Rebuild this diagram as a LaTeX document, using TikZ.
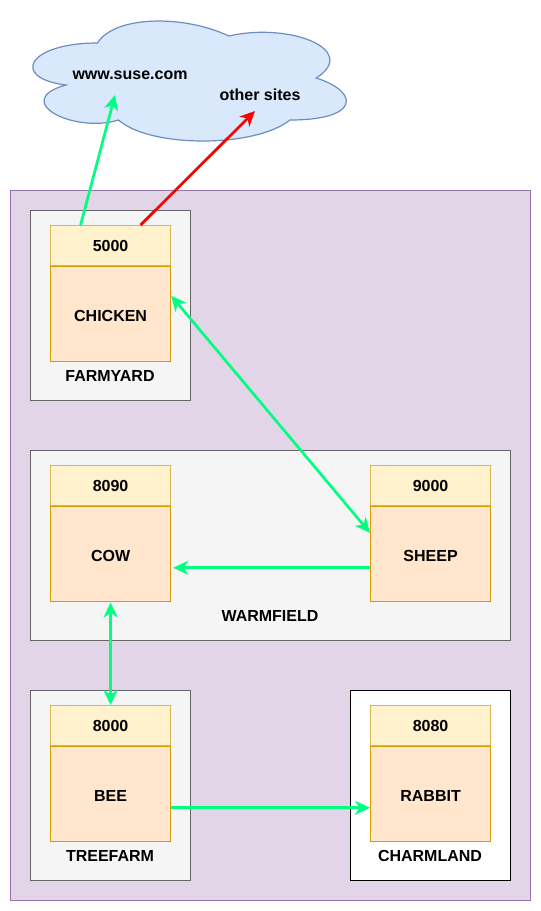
\documentclass[tikz,border=0pt]{standalone}
\usepackage{fontspec}
\setmainfont{Liberation Sans}
\usetikzlibrary{positioning,arrows.meta}

\definecolor{sitefill}{HTML}{E1D5E7}
\definecolor{siteline}{HTML}{9673A6}
\definecolor{farmfill}{HTML}{F5F5F5}
\definecolor{farmline}{HTML}{666666}
\definecolor{portfill}{HTML}{FFF2CC}
\definecolor{portline}{HTML}{D6B656}
\definecolor{animalfill}{HTML}{FFE6CC}
\definecolor{animalline}{HTML}{D79B00}
\definecolor{cloudfill}{HTML}{DAE8FC}
\definecolor{cloudline}{HTML}{6C8EBF}
\definecolor{linkgreen}{HTML}{00FF80}

\begin{document}
\begin{tikzpicture}[x=1pt,y=-1pt,
			>={Stealth[length=15pt,width=14pt,inset=4.5pt]},
			every node/.style={
				inner sep=0pt,
				align=center,
				font=\fontsize{16}{19}\selectfont\bfseries},
			site/.style={draw=siteline,fill=sitefill,line width=1pt},
			farm/.style={draw=farmline,fill=farmfill,line width=1.2pt,
				anchor=north west,minimum width=160pt,minimum height=190pt},
			port/.style={draw=portline,fill=portfill,line width=1.2pt,
				anchor=north west,minimum width=120pt,minimum height=40pt},
			animal/.style={draw=animalline,fill=animalfill,line width=1.2pt,
				below=0pt of #1,minimum width=120pt,minimum height=95pt,
				text height=14pt,text depth=0pt},
			link/.style={draw=linkgreen,line width=2.7pt}]
			
			\useasboundingbox (0,0) rectangle (541,911);
			
			\draw[draw=cloudline,fill=cloudfill,line width=1.2pt]
				(97.5,43) .. controls (27.5,43) and (10,78) .. (66,85)
				.. controls (10,100.4) and (73,134) .. (118.5,120)
				.. controls (150,148) and (255,148) .. (290,120)
				.. controls (360,120) and (360,92) .. (316.25,78)
				.. controls (360,50) and (290,22) .. (228.75,36)
				.. controls (185,15) and (115,15) .. (97.5,43) -- cycle;
			
			\node (suse) at (130,75){www.suse.com};
			
			\node (others) at (260,95){other sites};
			
			\coordinate (susein) at (115,95);
			
			\coordinate (othersin) at (255,111);
			
			\draw[site] (10,190) rectangle (530,900);
			
			\node (farmyard)[farm] at (30,210){};
			
			\node (warmfield)[farm,minimum width=480pt] at (30,450){};
			
			\node (treefarm)[farm] at (30,690){};
			
			\node (charmland)[farm,draw=black,fill=white] at (350,690){};
			
			\node (chickenport)[port] at (50,225){5000};
			
			\node (chicken)[animal=chickenport]{CHICKEN};
			
			\node (cowport)[port] at (50,465){8090};
			
			\node (cow)[animal=cowport]{COW};
			
			\node (sheepport)[port] at (370,465){9000};
			
			\node (sheep)[animal=sheepport]{SHEEP};
			
			\node (beeport)[port] at (50,705){8000};
			
			\node (bee)[animal=beeport]{BEE};
			
			\node (rabbitport)[port] at (370,705){8080};
			
			\node (rabbit)[animal=rabbitport]{RABBIT};
			
			\node (farmyardname) at (110,376){FARMYARD};
			
			\node (warmfieldname) at (270,616){WARMFIELD};
			
			\node (treefarmname) at (110,856){TREEFARM};
			
			\node (charmlandname) at (430,856){CHARMLAND};
			
			\draw[link,->]([xshift=-30pt]chickenport.north)--(susein);
			
			\draw[link,->,draw=red]([xshift=30pt]chickenport.north)--(othersin);
			
			\draw[link,<->]([yshift=18.5pt]chicken.east)--([yshift=21.5pt]sheep.west);
			
			\draw[link,->]([yshift=-13.5pt]sheep.west)--([yshift=-13.5pt,xshift=2pt]cow.east);
			
			\draw[link,<->](cow.south)--(beeport.north);
			
			\draw[link,->]([yshift=-13.5pt]bee.east)--([yshift=-13.5pt]rabbit.west);
			
		\end{tikzpicture}
\end{document}
